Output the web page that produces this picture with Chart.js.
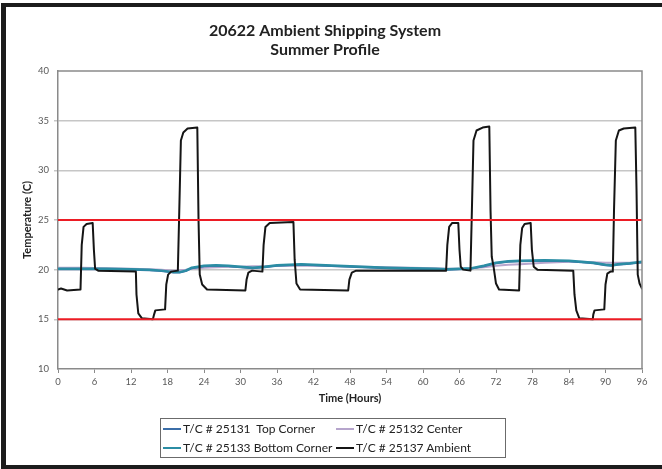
<!DOCTYPE html>
<html>
<head>
<meta charset="utf-8">
<script src="https://cdn.jsdelivr.net/npm/chart.js@4.4.1/dist/chart.umd.min.js"></script>
<style>
  html, body { margin: 0; padding: 0; background: #fff; }
  #wrap { position: relative; width: 662px; height: 469px; overflow: hidden; }
  #frame {
    position: absolute; left: 1px; top: 3px; width: 661px; height: 466px;
    box-sizing: border-box; border-left: 5px solid #1c1c1c;
    border-top: 4px solid #1c1c1c; border-bottom: 4px solid #1c1c1c;
    pointer-events: none;
  }
  #legend {
    position: absolute; left: 160px; top: 418px; width: 346px; height: 40px;
    box-sizing: border-box; border: 1px solid #6b6b6b;
    font-family: Lato, "Liberation Sans", sans-serif; font-size: 12px; color: #222;
  }
  .item { position: absolute; height: 20px; line-height: 20px; white-space: pre; }
  .item i { display: inline-block; width: 18px; height: 2px; vertical-align: middle; margin-right: 2px; position: relative; top: -1px; }
</style>
</head>
<body>
<div id="wrap">
  <canvas id="chart" width="662" height="469"></canvas>
  <div id="legend"></div>
  <div id="frame"></div>
</div>
<script>
// Ambient thermocouple (step profile)
const ambientHours = [0, 0.5, 1.5, 3.7, 3.9, 4.2, 4.7, 5.7, 5.9, 6.1, 6.6, 12.8, 12.9, 13.2, 13.8, 15.6, 15.8, 16.0, 17.6, 17.8, 18.1, 18.6, 19.7, 19.9, 20.2, 20.6, 21.3, 22.9, 23.1, 23.3, 23.7, 24.5, 30.8, 31.0, 31.3, 31.9, 33.6, 33.8, 34.1, 34.8, 38.7, 38.9, 39.2, 39.8, 47.7, 47.9, 48.3, 49.0, 63.8, 64.0, 64.3, 64.8, 65.8, 66.0, 66.2, 66.6, 67.8, 68.0, 68.3, 68.8, 69.8, 70.9, 71.1, 71.3, 71.6, 72.0, 72.5, 75.8, 76.0, 76.3, 76.7, 77.7, 77.9, 78.2, 78.8, 84.7, 84.9, 85.2, 85.7, 87.9, 88.0, 88.2, 89.8, 90.0, 90.3, 90.8, 91.2, 91.4, 91.7, 92.2, 93.0, 94.9, 95.1, 95.3, 95.6, 96.0];
const ambientTemp  = [18.0, 18.1, 17.9, 18.0, 22.5, 24.3, 24.6, 24.7, 22.0, 20.1, 19.9, 19.8, 17.5, 15.6, 15.1, 15.0, 15.5, 15.9, 16.0, 18.5, 19.5, 19.8, 19.9, 25.0, 33.0, 33.8, 34.2, 34.3, 25.0, 19.5, 18.5, 18.0, 17.9, 19.0, 19.7, 19.9, 19.8, 22.5, 24.3, 24.7, 24.8, 21.0, 18.6, 18.0, 17.9, 19.0, 19.7, 19.9, 19.9, 22.5, 24.3, 24.7, 24.7, 22.0, 20.3, 20.0, 19.9, 25.0, 33.0, 34.0, 34.3, 34.4, 26.0, 21.3, 20.3, 18.6, 18.0, 17.9, 22.5, 24.2, 24.6, 24.7, 22.0, 20.3, 20.0, 19.9, 17.5, 15.9, 15.1, 15.0, 15.5, 15.9, 16.0, 18.5, 19.6, 19.8, 19.8, 26.0, 33.0, 34.0, 34.2, 34.3, 28.0, 19.5, 18.6, 18.1];

// Payload thermocouples
const probeHours   = [0, 4, 8, 12, 15, 17, 19, 20, 21, 22, 24, 26, 28, 30, 32, 34, 36, 38, 40, 42, 44, 46, 48, 50, 54, 58, 62, 64, 66, 68, 70, 72, 74, 76, 80, 84, 86, 88, 90, 91, 92, 94, 96];
const topCorner    = [20.05, 20.05, 20.05, 20.0, 19.95, 19.85, 19.7, 19.7, 19.85, 20.15, 20.35, 20.4, 20.35, 20.25, 20.15, 20.25, 20.4, 20.45, 20.5, 20.45, 20.4, 20.35, 20.3, 20.25, 20.15, 20.1, 20.05, 20.0, 20.05, 20.1, 20.35, 20.65, 20.8, 20.85, 20.9, 20.85, 20.75, 20.65, 20.45, 20.4, 20.5, 20.6, 20.75];
const center       = [20.2, 20.2, 20.15, 20.1, 20.05, 20.0, 19.9, 19.95, 20.0, 20.1, 20.2, 20.25, 20.3, 20.3, 20.35, 20.35, 20.4, 20.4, 20.4, 20.4, 20.4, 20.35, 20.35, 20.3, 20.25, 20.2, 20.15, 20.1, 20.1, 20.15, 20.25, 20.4, 20.5, 20.55, 20.7, 20.8, 20.8, 20.75, 20.7, 20.7, 20.7, 20.7, 20.7];
const bottomCorner = [20.1, 20.1, 20.1, 20.05, 20.0, 19.9, 19.75, 19.75, 19.9, 20.2, 20.4, 20.45, 20.4, 20.3, 20.2, 20.3, 20.45, 20.5, 20.55, 20.5, 20.45, 20.4, 20.35, 20.3, 20.2, 20.15, 20.1, 20.05, 20.1, 20.15, 20.4, 20.7, 20.85, 20.9, 20.95, 20.9, 20.8, 20.7, 20.5, 20.45, 20.55, 20.65, 20.8];

const upperLimit = 25;
const lowerLimit = 15;
const timeRange = [0, 96];

const seriesNames = ['T/C # 25131  Top Corner', 'T/C # 25132 Center', 'T/C # 25133 Bottom Corner', 'T/C # 25137 Ambient'];
const seriesColors = ['#3b6ea8', '#b6a5cc', '#2b8da4', '#151515'];

const xy = (xs, ys) => xs.map((x, i) => ({ x: x, y: ys[i] }));
const FONT = 'Lato, "Liberation Sans", sans-serif';

// Plot frame (top and right edges)
const framePlugin = {
    id: 'plotFrame',
    afterDraw(chart) {
        const a = chart.chartArea, c = chart.ctx;
        c.save();
        c.strokeStyle = '#8a8a8a';
        c.lineWidth = 1.5;
        c.beginPath();
        c.moveTo(a.left, a.top);
        c.lineTo(a.right, a.top);
        c.lineTo(a.right, a.bottom);
        c.stroke();
        c.restore();
    }
};

const ctx = document.getElementById('chart').getContext('2d');
new Chart(ctx, {
    type: 'line',
    data: {
        datasets: [
            { label: seriesNames[3], data: xy(ambientHours, ambientTemp), borderColor: seriesColors[3], borderWidth: 2, order: 1 },
            { label: seriesNames[2], data: xy(probeHours, bottomCorner), borderColor: seriesColors[2], borderWidth: 2.5, order: 2 },
            { label: seriesNames[0], data: xy(probeHours, topCorner), borderColor: seriesColors[0], borderWidth: 2, order: 3 },
            { label: seriesNames[1], data: xy(probeHours, center), borderColor: seriesColors[1], borderWidth: 2, order: 4 },
            { label: 'Upper', data: xy(timeRange, [upperLimit, upperLimit]), borderColor: '#ec1c24', borderWidth: 2, order: 0 },
            { label: 'Lower', data: xy(timeRange, [lowerLimit, lowerLimit]), borderColor: '#ec1c24', borderWidth: 2, order: 0 }
        ]
    },
    options: {
        responsive: false,
        animation: false,
        events: [],
        elements: { point: { radius: 0 }, line: { tension: 0, borderCapStyle: 'round', borderJoinStyle: 'round' } },
        layout: { padding: { left: 8, right: 20, top: 0, bottom: 60 } },
        plugins: {
            legend: { display: false },
            tooltip: { enabled: false },
            title: {
                display: true,
                text: ['20622 Ambient Shipping System', 'Summer Profile'],
                color: '#222',
                font: { family: FONT, size: 16, weight: 'bold', lineHeight: 1.2 },
                padding: { top: 21, bottom: 11.5 }
            }
        },
        scales: {
            x: {
                type: 'linear',
                min: 0, max: 96,
                afterFit: s => { s.height = 40; },
                ticks: { stepSize: 6, maxRotation: 0, padding: 3, color: '#595959', font: { family: FONT, size: 9.5 } },
                grid: { drawOnChartArea: false, drawTicks: true, tickLength: 4, color: '#8a8a8a', lineWidth: 1 },
                border: { color: '#8a8a8a', width: 1.5 },
                title: { display: true, text: 'Time (Hours)', color: '#222', padding: { top: 4, bottom: 4 }, font: { family: FONT, size: 11, weight: 'bold' } }
            },
            y: {
                min: 10, max: 40,
                afterFit: s => { s.width = 50; },
                ticks: { stepSize: 5, padding: 5, color: '#595959', font: { family: FONT, size: 9.5 } },
                grid: {
                    drawTicks: true, tickLength: 4, lineWidth: 1.5,
                    color: c => (c.tick && (c.tick.value === 10 || c.tick.value === 40)) ? 'rgba(0,0,0,0)' : '#c6c6c6'
                },
                border: { color: '#8a8a8a', width: 1.5 },
                title: { display: true, text: 'Temperature (C)', color: '#222', padding: { top: 13, bottom: 0 }, font: { family: FONT, size: 11, weight: 'bold' } }
            }
        }
    },
    plugins: [framePlugin]
});

// Two-column boxed legend, same layout as the original
const legendOrder = [0, 1, 2, 3];
const legendPos = [[2, 0], [175, 0], [2, 19], [175, 19]];
const legendEl = document.getElementById('legend');
legendOrder.forEach((k, i) => {
    const d = document.createElement('div');
    d.className = 'item';
    d.style.left = legendPos[i][0] + 'px';
    d.style.top = legendPos[i][1] + 'px';
    d.innerHTML = '<i style="background:' + seriesColors[k] + '"></i>';
    d.appendChild(document.createTextNode(seriesNames[k]));
    legendEl.appendChild(d);
});
</script>
</body>
</html>
